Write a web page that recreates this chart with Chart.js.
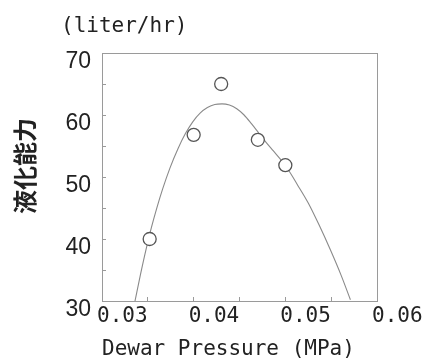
<!DOCTYPE html>
<html>
<head>
<meta charset="utf-8">
<script src="https://cdn.jsdelivr.net/npm/chart.js@4/dist/chart.umd.min.js"></script>
<style>
  html, body { margin: 0; padding: 0; background: #fff; }
  #wrap { width: 426px; height: 359px; }
</style>
</head>
<body>
<div id="wrap"><canvas id="chart" width="426" height="359"></canvas></div>
<script>
// measured liquefaction rate vs dewar pressure
const pressure = [0.0352, 0.0400, 0.0430, 0.0470, 0.0500];
const capacity = [40.0, 56.8, 65.0, 56.0, 51.9];

// fitted curve, sampled along its length
const fitPressure = [0.0336, 0.0342, 0.0348, 0.0354, 0.0360, 0.0366, 0.0374, 0.0383, 0.0391, 0.0399,
                     0.0407, 0.0415, 0.0423, 0.0431, 0.0439, 0.0447, 0.0455, 0.0463, 0.0471, 0.0479,
                     0.0487, 0.0495, 0.0503, 0.0513, 0.0525, 0.0537, 0.0549, 0.0561, 0.0571];
const fitCapacity = [30.0, 34.3, 38.3, 41.9, 45.1, 48.0, 51.4, 54.6, 57.0, 58.9,
                     60.3, 61.2, 61.7, 61.8, 61.6, 61.0, 60.0, 58.6, 57.1, 55.6,
                     54.2, 52.8, 51.2, 48.8, 45.8, 42.2, 38.3, 34.1, 30.2];

const xTicks = [0.03, 0.04, 0.05, 0.06];
const yTicks = [30, 40, 50, 60, 70];

const AXIS = '#9a9a9a';
const INK = '#222';
const MONO = 'DejaVu Sans Mono';

// box round the plot, units and the vertical Japanese axis title
const frameAndTitles = {
    id: 'frameAndTitles',
    beforeDatasetsDraw(chart) {
        const { ctx, chartArea: a } = chart;
        ctx.save();
        ctx.strokeStyle = AXIS;
        ctx.lineWidth = 1;
        ctx.strokeRect(Math.round(a.left) + 0.5, Math.round(a.top) + 0.5,
                       Math.round(a.right - a.left), Math.round(a.bottom - a.top));
        ctx.restore();
    },
    afterDraw(chart) {
        const { ctx, chartArea: a } = chart;
        ctx.save();
        ctx.fillStyle = INK;
        ctx.font = '21px "' + MONO + '"';
        ctx.textAlign = 'left';
        ctx.textBaseline = 'middle';
        ctx.fillText('(liter/hr)', a.left - 41, a.top - 26);

        ctx.font = 'bold 24px "Noto Sans CJK JP"';
        ctx.textAlign = 'center';
        ctx.translate(25, (a.top + a.bottom) / 2 - 11);
        ctx.rotate(-Math.PI / 2);
        ctx.fillText('液化能力', 0, 0);
        ctx.restore();
    }
};

const isMajor = (v, list) => list.some(t => Math.abs(t - v) < 1e-9);

new Chart(document.getElementById('chart'), {
    type: 'scatter',
    data: {
        datasets: [
            {
                label: 'measured',
                data: pressure.map((x, i) => ({ x, y: capacity[i] })),
                pointStyle: 'circle',
                pointRadius: 6.5,
                pointBackgroundColor: '#fff',
                pointBorderColor: '#555',
                pointBorderWidth: 1.3,
                showLine: false
            },
            {
                label: 'fit',
                data: fitPressure.map((x, i) => ({ x, y: fitCapacity[i] })),
                showLine: true,
                pointRadius: 0,
                borderColor: '#8a8a8a',
                borderWidth: 1.1,
                cubicInterpolationMode: 'monotone'
            }
        ]
    },
    options: {
        responsive: false,
        animation: false,
        events: [],
        layout: { padding: { left: 0, right: 49, top: 53, bottom: 0 } },
        plugins: {
            legend: { display: false },
            tooltip: { enabled: false }
        },
        scales: {
            x: {
                type: 'linear',
                position: 'bottom',
                min: 0.03,
                max: 0.06,
                border: { color: AXIS, width: 1 },
                grid: { drawOnChartArea: false, drawTicks: true, tickLength: -4, color: AXIS },
                ticks: {
                    stepSize: 0.005,
                    autoSkip: false,
                    maxRotation: 0,
                    align: 'start',
                    labelOffset: -5,
                    padding: 7,
                    color: INK,
                    font: { family: MONO, size: 21 },
                    callback: v => isMajor(v, xTicks) ? v.toFixed(2) : ''
                },
                title: {
                    display: true,
                    text: 'Dewar Pressure (MPa)',
                    align: 'start',
                    color: INK,
                    font: { family: MONO, size: 21, lineHeight: 0.9 },
                    padding: 0
                },
                afterFit(s) { s.height = 58; s.paddingLeft = 0; s.paddingRight = 0; }
            },
            y: {
                min: 30,
                max: 70,
                border: { color: AXIS, width: 1 },
                grid: { drawOnChartArea: false, drawTicks: true, tickLength: -4, color: AXIS },
                ticks: {
                    stepSize: 5,
                    autoSkip: false,
                    padding: 15,
                    labelOffset: 9,
                    color: INK,
                    font: { family: 'Liberation Sans', size: 23 },
                    callback: v => isMajor(v, yTicks) ? String(v) : ''
                },
                afterFit(s) { s.width = 102; s.paddingTop = 0; s.paddingBottom = 0; }
            }
        }
    },
    plugins: [frameAndTitles]
});
</script>
</body>
</html>
